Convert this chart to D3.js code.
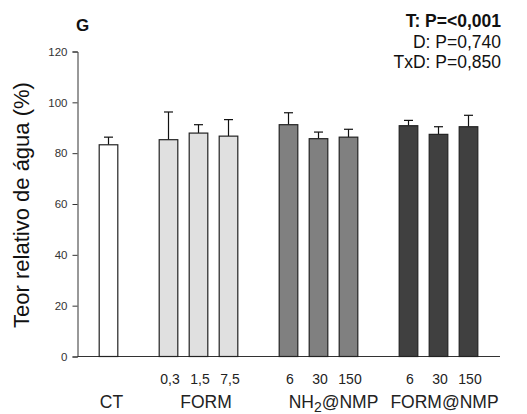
<!DOCTYPE html>
<html><head><meta charset="utf-8">
<script src="https://cdn.jsdelivr.net/npm/d3@7"></script>
<style>body{margin:0;background:#fff}svg{display:block;font-family:"Liberation Sans",Arial,sans-serif}</style>
</head><body>
<script>
const groups = ["CT","FORM","NH2@NMP","FORM@NMP"];
const groupLabelSlot = [0.1, 3.25, 7.5, 11.2];
const doses = ["", "0,3","1,5","7,5","6","30","150","6","30","150"];
const barGroup = [0,1,1,1,2,2,2,3,3,3];
const slots = [0,2,3,4,6,7,8,10,11,12];
const values = [83.3,85.3,87.9,86.7,91.2,85.7,86.3,90.8,87.4,90.4];
const errors = [3.0,10.9,3.3,6.5,4.7,2.6,3.1,2.1,3.0,4.5];
const groupColors = ["#ffffff","#e0e0e0","#808080","#404040"];
const yTicks = [0,20,40,60,80,100,120];
const stats = [["T: P=<0,001",true],["D: P=0,740",false],["TxD: P=0,850",false]];

const W=527,H=414;
const svg=d3.select("body").append("svg").attr("width",W).attr("height",H);
const y=d3.scaleLinear().domain([0,120]).range([356.5,51.5]);
const x=d3.scaleBand().domain(d3.range(13)).range([93.5,483.5]).paddingInner(0.38).paddingOuter(0.19);
const axX=77.5, axEnd=500;
const step=x.step();

// y axis
const ya=svg.append("g").attr("transform",`translate(${axX},0)`)
 .call(d3.axisLeft(y).tickValues(yTicks).tickSize(5).tickPadding(5));
ya.select(".domain").attr("stroke","#333");
ya.selectAll(".tick line").attr("stroke","#333");
ya.selectAll("text").attr("font-size",11.5).attr("fill","#333").attr("font-family","Liberation Sans, Arial");
// x axis line
svg.append("line").attr("x1",axX).attr("x2",axEnd).attr("y1",y(0)).attr("y2",y(0)).attr("stroke","#333");

// bars
const bw=x.bandwidth();
values.forEach((v,i)=>{
  const cx=x(slots[i])+bw/2;
  svg.append("line").attr("x1",cx).attr("x2",cx).attr("y1",y(v)).attr("y2",y(v+errors[i])).attr("stroke","#111").attr("stroke-width",1.2);
  svg.append("line").attr("x1",cx-4.5).attr("x2",cx+4.5).attr("y1",y(v+errors[i])).attr("y2",y(v+errors[i])).attr("stroke","#111").attr("stroke-width",1.2);
  svg.append("rect").attr("x",x(slots[i])).attr("width",bw).attr("y",y(v)).attr("height",y(0)-y(v))
    .attr("fill",groupColors[barGroup[i]]).attr("stroke","#222").attr("stroke-width",1.2);
  if(doses[i]) svg.append("text").attr("x",cx+1.5).attr("y",384).attr("text-anchor","middle").attr("font-size",14).attr("fill","#222").text(doses[i]);
});

// group labels
groups.forEach((g,gi)=>{
  const cx=x(0)+bw/2+groupLabelSlot[gi]*step;
  const t=svg.append("text").attr("x",cx).attr("y",408).attr("text-anchor","middle").attr("font-size",17.5).attr("fill","#222");
  if(g==="NH2@NMP"){t.append("tspan").text("NH");t.append("tspan").attr("dy",3.5).attr("font-size",14).text("2");t.append("tspan").attr("dy",-3.5).text("@NMP");}
  else t.text(g);
});

// y label
svg.append("text").attr("transform","translate(29,205) rotate(-90)").attr("text-anchor","middle").attr("font-size",22).attr("fill","#111").text("Teor relativo de água (%)");

// panel letter
svg.append("text").attr("x",76).attr("y",31).attr("font-size",17).attr("font-weight","bold").attr("fill","#111").text("G");
// stats
stats.forEach((s,i)=>{
  svg.append("text").attr("x",501).attr("y",27+i*20.5).attr("text-anchor","end").attr("font-size",17.5)
   .attr("font-weight",s[1]?"bold":"normal").attr("fill","#111").text(s[0]);
});
</script>
</body></html>
